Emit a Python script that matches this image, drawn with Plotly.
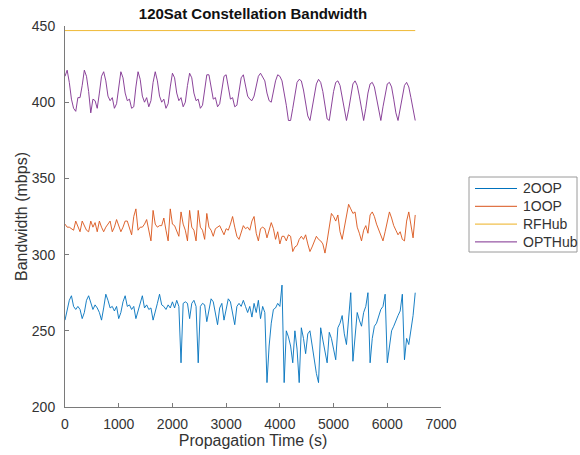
import plotly.graph_objects as go

# ---- data ----
time_s = list(range(0, 6521, 40))  # sampling grid, 164 points

oop2 = [
    257, 263, 270, 273, 266, 264, 266, 264, 258, 262,
    270, 273, 268, 264, 267, 265, 262, 257, 265, 274,
    270, 265, 266, 263, 266, 258, 262, 269, 273, 266,
    267, 264, 266, 258, 263, 269, 273, 265, 267, 264,
    265, 257, 262, 268, 274, 267, 266, 264, 267, 265,
    269, 265, 270, 266, 229, 268, 269, 268, 258, 268,
    270, 266, 229, 266, 268, 267, 256, 264, 271, 269,
    262, 254, 265, 268, 257, 264, 271, 269, 262, 254,
    266, 268, 266, 270, 266, 262, 266, 259, 268, 262,
    270, 258, 266, 262, 216, 240, 255, 264, 265, 268,
    266, 280, 216, 250, 246, 240, 229, 250, 238, 216,
    252, 245, 235, 248, 250, 240, 232, 222, 216, 252,
    244, 236, 229, 249, 245, 238, 231, 252, 255, 260,
    248, 241, 258, 275, 230, 248, 262, 257, 253, 262,
    266, 275, 229, 245, 253, 255, 260, 264, 266, 274,
    229, 240, 250, 253, 257, 260, 263, 274, 231, 245,
    241, 252, 260, 275,
]

oop1 = [
    320, 318, 318, 317, 316, 322, 319, 315, 322, 319,
    316, 315, 322, 318, 321, 315, 322, 318, 315, 318,
    320, 322, 315, 318, 323, 319, 315, 318, 322, 322,
    317, 313, 325, 330, 316, 318, 318, 320, 323, 316,
    309, 329, 320, 318, 319, 319, 324, 316, 309, 330,
    320, 319, 315, 312, 328, 320, 316, 309, 329, 318,
    316, 309, 329, 318, 316, 310, 327, 318, 316, 312,
    317, 318, 319, 316, 313, 317, 316, 320, 325, 318,
    312, 310, 315, 319, 317, 318, 316, 322, 325, 314,
    309, 317, 318, 317, 311, 316, 321, 317, 310, 315,
    307, 312, 312, 309, 313, 312, 302, 305, 306, 310,
    312, 310, 313, 307, 302, 305, 308, 312, 310, 309,
    307, 301, 309, 318, 327, 325, 322, 326, 315, 310,
    318, 326, 333, 330, 327, 328, 318, 314, 309, 316,
    319, 314, 326, 328, 325, 320, 316, 313, 309, 315,
    322, 328, 324, 319, 316, 313, 315, 310, 309, 322,
    328, 319, 311, 326,
]

rfhub = [447.0] * len(time_s)

opthub = [
    417, 421, 413, 402, 396, 394, 403, 403, 411, 421,
    417, 407, 393, 402, 401, 396, 406, 417, 420, 414,
    404, 401, 403, 396, 399, 411, 420, 416, 406, 401,
    402, 396, 397, 410, 420, 415, 404, 400, 403, 397,
    401, 413, 420, 414, 404, 400, 402, 396, 399, 410,
    419, 416, 406, 401, 403, 397, 400, 411, 419, 416,
    406, 401, 402, 396, 398, 408, 418, 418, 410, 402,
    403, 397, 399, 408, 417, 418, 410, 402, 403, 397,
    398, 406, 416, 418, 412, 404, 402, 401, 404, 411,
    417, 419, 416, 414, 406, 401, 400, 407, 414, 418,
    417, 414, 407, 398, 388, 388, 396, 406, 413, 415,
    414, 408, 399, 391, 388, 397, 406, 412, 415, 413,
    407, 398, 389, 388, 398, 407, 413, 414, 411, 404,
    395, 388, 395, 405, 412, 414, 411, 404, 395, 388,
    396, 406, 412, 413, 410, 403, 394, 388, 397, 406,
    412, 413, 410, 402, 393, 388, 396, 405, 411, 413,
    410, 403, 394, 388,
]

series_names = ["2OOP", "1OOP", "RFHub", "OPTHub"]
series_values = [oop2, oop1, rfhub, opthub]
series_colors = ["#0072BD", "#D95319", "#EDB120", "#7E2F8E"]

x_ticks = [0, 1000, 2000, 3000, 4000, 5000, 6000, 7000]
y_ticks = [200, 250, 300, 350, 400, 450]

FONT = "Liberation Sans, Arial, sans-serif"

# ---- layout geometry (pixels) ----
W, H = 580, 455
L, R, T, B = 65, 441, 26, 407  # plot area edges


def px_x(p):
    return (p - L) / (R - L)


def px_y(p):
    return (B - p) / (B - T)


fig = go.Figure()
for name, vals, col in zip(series_names, series_values, series_colors):
    fig.add_trace(go.Scatter(x=time_s, y=vals, mode="lines", name=name,
                             line=dict(color=col, width=0.9),
                             showlegend=False))

axis_common = dict(
    showline=True, linecolor="#7a7a7a", linewidth=1,
    ticks="inside", ticklen=4, tickcolor="#7a7a7a", tickwidth=1,
    showgrid=False, zeroline=False, mirror=False, automargin=False,
    tickfont=dict(family=FONT, size=14, color="#333333"),
)

# ---- legend box (MATLAB style), drawn in paper coordinates ----
shapes = [dict(type="rect", xref="paper", yref="paper",
               x0=px_x(469), x1=px_x(577), y0=px_y(252), y1=px_y(177),
               line=dict(color="#9a9a9a", width=1), fillcolor="white",
               layer="above")]
annotations = []
row_y = [188.5, 206.3, 224.1, 241.9]
for name, col, yy in zip(series_names, series_colors, row_y):
    shapes.append(dict(type="line", xref="paper", yref="paper",
                       x0=px_x(475), x1=px_x(517), y0=px_y(yy), y1=px_y(yy),
                       line=dict(color=col, width=1), layer="above"))
    annotations.append(dict(text=name, xref="paper", yref="paper",
                            x=px_x(521), y=px_y(yy), xanchor="left",
                            yanchor="middle", showarrow=False,
                            font=dict(family=FONT, size=14, color="#333333")))

fig.update_layout(
    width=W, height=H,
    margin=dict(l=L, r=W - R, t=T, b=H - B, autoexpand=False),
    paper_bgcolor="white", plot_bgcolor="white",
    font=dict(family=FONT, color="#222222"),
    title=dict(text="<b>120Sat Constellation Bandwidth</b>",
               font=dict(family=FONT, size=15, color="#111111"),
               x=0.5, xref="paper", xanchor="center",
               y=1 - 14 / H, yref="container", yanchor="middle",
               automargin=False),
    xaxis=dict(range=[0, 7000], tickvals=x_ticks, ticklabelstandoff=4,
               title=dict(text="Propagation Time (s)",
                          font=dict(family=FONT, size=16, color="#333333"),
                          standoff=2),
               **axis_common),
    yaxis=dict(range=[200, 450], tickvals=y_ticks, ticklabelstandoff=6,
               title=dict(text="Bandwidth (mbps)",
                          font=dict(family=FONT, size=16, color="#333333"),
                          standoff=0),
               **axis_common),
    shapes=shapes,
    annotations=annotations,
    showlegend=False,
)

fig.write_html("out.html",
               config={"displayModeBar": False},
               post_script="document.body.style.margin='0';"
                           "document.body.style.padding='0';")
